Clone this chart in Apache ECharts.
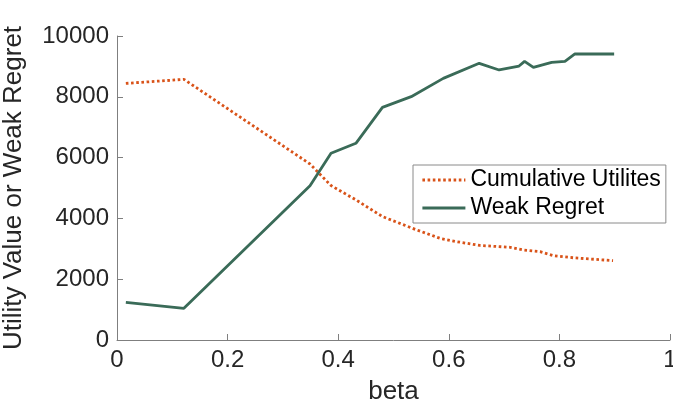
<!DOCTYPE html>
<html>
<head>
<meta charset="utf-8">
<script src="https://cdn.jsdelivr.net/npm/echarts@6/dist/echarts.min.js"></script>
<style>
html,body{margin:0;padding:0;background:#fff;}
#chart{width:673px;height:409px;}
</style>
</head>
<body>
<div id="chart"></div>
<script>
// Data
const utilBeta   = [0.016, 0.121, 0.349, 0.387, 0.432, 0.480, 0.542, 0.584, 0.614, 0.656, 0.711, 0.735, 0.765, 0.789, 0.825, 0.897];
const utilValues = [8440, 8575, 5790, 5080, 4610, 4060, 3620, 3345, 3235, 3110, 3050, 2960, 2905, 2775, 2705, 2610];

const regretBeta   = [0.016, 0.121, 0.349, 0.387, 0.432, 0.480, 0.532, 0.590, 0.655, 0.691, 0.727, 0.737, 0.753, 0.786, 0.810, 0.828, 0.899];
const regretValues = [1240, 1043, 5076, 6141, 6470, 7654, 8004, 8607, 9101, 8882, 9013, 9167, 8969, 9134, 9167, 9408, 9408];

const seriesNames = ['Cumulative Utilites', 'Weak Regret'];
const xTicks = [0, 0.2, 0.4, 0.6, 0.8, 1];
const yTicks = [0, 2000, 4000, 6000, 8000, 10000];

const font = '"Liberation Sans", Arial, Helvetica, sans-serif';
const axisGray = '#7f7f7f';
const textCol = '#262626';

const chart = echarts.init(document.getElementById('chart'), null, {renderer: 'canvas'});
chart.setOption({
  animation: false,
  backgroundColor: '#ffffff',
  grid: {left: 117, right: 3, top: 36, bottom: 69, containLabel: false, outerBoundsMode: 'none'},
  xAxis: {
    type: 'value', min: xTicks[0], max: xTicks[xTicks.length - 1], interval: 0.2,
    name: 'beta', nameLocation: 'middle', nameGap: 39,
    nameTextStyle: {fontFamily: font, fontSize: 26, color: textCol},
    axisLine: {show: true, lineStyle: {color: axisGray, width: 1}},
    axisTick: {show: true, inside: true, length: 6, lineStyle: {color: axisGray}},
    axisLabel: {fontFamily: font, fontSize: 24, color: textCol, margin: 8,
      formatter: v => (Math.abs(v) < 1e-9 ? '0' : (Math.abs(v - 1) < 1e-9 ? '1' : String(+v.toFixed(1))))},
    splitLine: {show: false}
  },
  yAxis: {
    type: 'value', min: yTicks[0], max: yTicks[yTicks.length - 1], interval: 2000,
    name: 'Utility Value or Weak Regret', nameLocation: 'middle', nameGap: 90,
    nameTextStyle: {fontFamily: font, fontSize: 26, color: textCol},
    axisLine: {show: true, lineStyle: {color: axisGray, width: 1}},
    axisTick: {show: true, inside: true, length: 6, lineStyle: {color: axisGray}},
    axisLabel: {fontFamily: font, fontSize: 24, color: textCol, margin: 8,
      formatter: v => String(v)},
    splitLine: {show: false}
  },
  legend: {
    left: 413, top: 165, orient: 'vertical',
    data: seriesNames,
    backgroundColor: '#ffffff', borderColor: '#8a8a8a', borderWidth: 1,
    padding: [2, 5, 2, 8], itemGap: 2, itemWidth: 43, itemHeight: 14,
    itemStyle: {opacity: 0},
    lineStyle: {width: 2.8},
    textStyle: {fontFamily: font, fontSize: 23, color: '#000000', lineHeight: 26}
  },
  series: [
    {
      name: seriesNames[0], type: 'line', showSymbol: false, symbol: 'none',
      data: utilBeta.map((b, i) => [b, utilValues[i]]),
      lineStyle: {color: '#D95319', width: 2.8, type: [2.6, 2.6]},
      itemStyle: {color: '#D95319'}, z: 2
    },
    {
      name: seriesNames[1], type: 'line', showSymbol: false, symbol: 'none',
      data: regretBeta.map((b, i) => [b, regretValues[i]]),
      lineStyle: {color: '#3A6B58', width: 2.8},
      itemStyle: {color: '#3A6B58'}, z: 3
    }
  ]
});
</script>
</body>
</html>
